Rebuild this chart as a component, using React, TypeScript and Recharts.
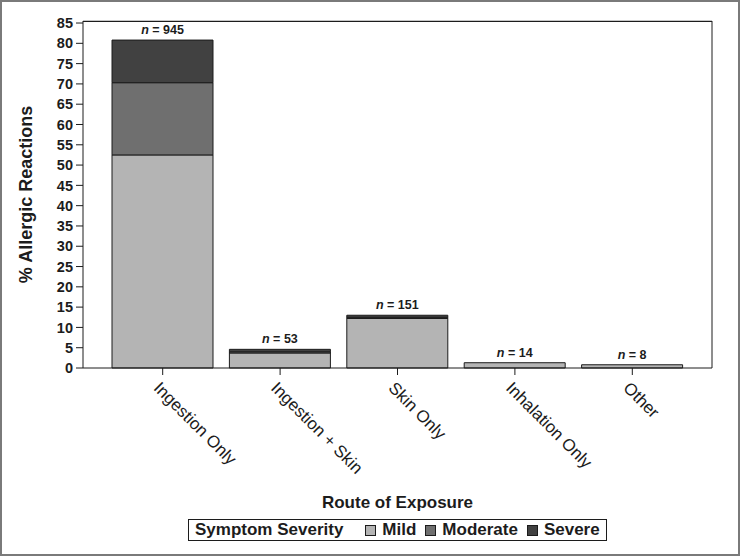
import { BarChart, Bar, XAxis, YAxis, Legend, LabelList, Label, CartesianGrid, ReferenceLine } from 'recharts';

const routes = ['Ingestion Only', 'Ingestion + Skin', 'Skin Only', 'Inhalation Only', 'Other'];
const mild = [52.5, 3.7, 12.2, 1.3, 0.8];
const moderate = [17.8, 0.3, 0.3, 0, 0];
const severe = [10.5, 0.6, 0.5, 0, 0];
const counts = [945, 53, 151, 14, 8];
const yTicks = [0, 5, 10, 15, 20, 25, 30, 35, 40, 45, 50, 55, 60, 65, 70, 75, 80, 85];
const yMax = 85.5;
const severityKeys = ['mild', 'moderate', 'severe'];
const severityNames = ['Mild', 'Moderate', 'Severe'];
const severityColors = ['#b4b4b4', '#6f6f6f', '#414141'];

const FONT = '"Liberation Sans", Arial, Helvetica, sans-serif';
const INK = '#1c1c1c';

const data = routes.map((route, i) => ({
  route,
  mild: mild[i],
  moderate: moderate[i],
  severe: severe[i],
  n: counts[i],
}));

// index of the highest non-empty segment in each stack, so the n label sits on top
const topLayer = routes.map((_, i) => (severe[i] > 0 ? 2 : moderate[i] > 0 ? 1 : 0));

function RouteTick({ x, y, payload }: any) {
  const ax = x - 10;
  const ay = y + 12;
  return (
    <text
      x={ax}
      y={ay}
      transform={`rotate(45, ${ax}, ${ay})`}
      textAnchor="start"
      fontFamily={FONT}
      fontSize={17}
      fill={INK}
    >
      {payload.value}
    </text>
  );
}

function makeCountLabel(layer: number) {
  return (props: any) => {
    const { x, y, width, value, index } = props;
    if (topLayer[index] !== layer) return null;
    return (
      <text
        x={x + width / 2}
        y={y - 6}
        textAnchor="middle"
        fontFamily={FONT}
        fontSize={12.5}
        fontWeight="bold"
        fill={INK}
      >
        <tspan fontStyle="italic">n</tspan> = {value}
      </text>
    );
  };
}

function SeverityLegend() {
  return (
    <div style={{ position: 'relative', width: 740, height: 22 }}>
      <div
        style={{
          position: 'absolute',
          left: 188,
          top: 0,
          width: 419,
          height: 22,
          boxSizing: 'border-box',
          border: `1.5px solid ${INK}`,
          background: '#fff',
          display: 'flex',
          alignItems: 'center',
          paddingLeft: 6,
          fontFamily: FONT,
          fontSize: 17,
          fontWeight: 'bold',
          color: INK,
          whiteSpace: 'nowrap',
        }}
      >
        <span style={{ marginRight: 22 }}>Symptom Severity</span>
        {severityNames.map((name, i) => (
          <span key={name} style={{ display: 'flex', alignItems: 'center', marginRight: 9 }}>
            <span
              style={{
                display: 'inline-block',
                width: 9,
                height: 9,
                background: severityColors[i],
                border: `1px solid ${INK}`,
                marginRight: 6,
              }}
            />
            {name}
          </span>
        ))}
      </div>
    </div>
  );
}

export default function App() {
  return (
    <div
      style={{
        position: 'absolute',
        left: 0,
        top: 0,
        width: 740,
        height: 556,
        boxSizing: 'border-box',
        border: '2px solid #7a7a7a',
        background: '#fff',
      }}
    >
      <div style={{ position: 'absolute', left: -2, top: -2 }}>
        <BarChart
          width={740}
          height={556}
          data={data}
          margin={{ top: 21, right: 0, bottom: 15, left: 0 }}
          barSize={101}
        >
          {/* top frame line of the plot area */}
          <CartesianGrid
            vertical={false}
            stroke={INK}
            strokeOpacity={1}
            horizontalCoordinatesGenerator={(p: any) => [(p.offset ? p.offset.top : 21) + 0.5]}
          />
          <XAxis
            dataKey="route"
            interval={0}
            height={151}
            padding={{ left: 21, right: 21 }}
            tickSize={7}
            tickMargin={2}
            tick={<RouteTick />}
            axisLine={{ stroke: INK }}
            tickLine={{ stroke: INK }}
          >
            <Label
              value="Route of Exposure"
              position="insideBottom"
              offset={11}
              style={{ fontFamily: FONT, fontSize: 17, fontWeight: 'bold', fill: INK }}
            />
          </XAxis>
          <YAxis
            width={83}
            domain={[0, yMax]}
            ticks={yTicks}
            interval={0}
            tickSize={7}
            tickMargin={3}
            axisLine={{ stroke: INK }}
            tickLine={{ stroke: INK }}
            tick={{ fontFamily: FONT, fontSize: 14.5, fontWeight: 'bold', fill: INK }}
          >
            <Label
              content={({ viewBox }: any) => {
                const cx = 26;
                const cy = viewBox.y + viewBox.height / 2;
                return (
                  <text
                    x={cx}
                    y={cy}
                    transform={`rotate(-90, ${cx}, ${cy})`}
                    textAnchor="middle"
                    dominantBaseline="central"
                    fontFamily={FONT}
                    fontSize={18}
                    fontWeight="bold"
                    fill={INK}
                  >
                    % Allergic Reactions
                  </text>
                );
              }}
            />
          </YAxis>
          <YAxis
            yAxisId="right"
            orientation="right"
            width={28}
            domain={[0, yMax]}
            ticks={yTicks}
            interval={0}
            tickSize={7}
            axisLine={{ stroke: INK }}
            tickLine={{ stroke: INK }}
            tick={() => <g />}
          />
          <ReferenceLine y={yMax - 0.1} stroke={INK} strokeWidth={1.2} />
          <Legend verticalAlign="bottom" wrapperStyle={{ left: 0, width: 740, bottom: 15 }} content={() => <SeverityLegend />} />
          {severityKeys.map((key, layer) => (
            <Bar
              key={key}
              dataKey={key}
              name={severityNames[layer]}
              stackId="s"
              fill={severityColors[layer]}
              stroke={INK}
              strokeWidth={1}
              isAnimationActive={false}
            >
              <LabelList dataKey="n" content={makeCountLabel(layer)} />
            </Bar>
          ))}
        </BarChart>
      </div>
    </div>
  );
}
